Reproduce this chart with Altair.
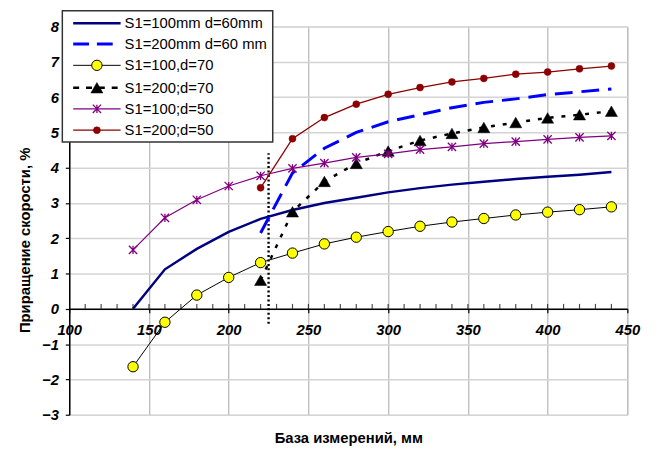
import altair as alt
import pandas as pd

# ---------------- data ----------------
x_full = [140, 160, 180, 200, 220, 240, 260, 280, 300, 320, 340, 360, 380, 400, 420, 440]
x_half = [220, 240, 260, 280, 300, 320, 340, 360, 380, 400, 420, 440]

names = ["S1=100mm d=60mm", "S1=200mm d=60 mm", "S1=100,d=70",
         "S1=200;d=70", "S1=100;d=50", "S1=200;d=50"]

y_s100_d60 = [0.0, 1.12, 1.7, 2.18, 2.55, 2.8, 3.0, 3.15, 3.3, 3.42, 3.52, 3.6, 3.68, 3.74, 3.8, 3.88]
y_s200_d60 = [2.15, 3.85, 4.55, 5.0, 5.3, 5.5, 5.7, 5.85, 5.95, 6.07, 6.15, 6.23]
y_s100_d70 = [-1.64, -0.38, 0.39, 0.89, 1.31, 1.58, 1.84, 2.03, 2.19, 2.34, 2.46, 2.56, 2.66, 2.74, 2.81, 2.89]
y_s200_d70 = [0.81, 2.75, 3.61, 4.12, 4.47, 4.77, 4.97, 5.14, 5.28, 5.41, 5.5, 5.6]
y_s100_d50 = [1.67, 2.58, 3.09, 3.48, 3.77, 3.98, 4.13, 4.29, 4.39, 4.51, 4.59, 4.68, 4.74, 4.8, 4.86, 4.9]
y_s200_d50 = [3.43, 4.82, 5.42, 5.8, 6.08, 6.27, 6.43, 6.53, 6.65, 6.71, 6.8, 6.88]

divider_x = [225, 225]
divider_y = [-0.42, 4.41]

x_ticks = [100, 150, 200, 250, 300, 350, 400, 450]
x_minor = list(range(110, 450, 10))
y_ticks = [-3, -2, -1, 0, 1, 2, 3, 4, 5, 6, 7, 8]

x_title = "База измерений, мм"
y_title = "Приращение скорости, %"

series_data = [
    (x_full, y_s100_d60),
    (x_half, y_s200_d60),
    (x_full, y_s100_d70),
    (x_half, y_s200_d70),
    (x_full, y_s100_d50),
    (x_half, y_s200_d50),
]

# ---------------- styles ----------------
ASTER = "M-1,-1L1,1M-1,1L1,-1M0,-1L0,1"
styles = [
    dict(color="#000080", width=2.5, dash=None, marker=None),
    dict(color="#0000FF", width=3, dash=[18, 9], marker=None),
    dict(color="#000000", width=1, dash=None,
         marker=dict(shape="circle", filled=True, fill="#FFFF00", stroke="#000000", strokeWidth=1, size=110)),
    dict(color="#000000", width=2.5, dash=[4, 8],
         marker=dict(shape="triangle-up", filled=True, fill="#000000", stroke="#000000", strokeWidth=0.5, size=150)),
    dict(color="#800080", width=1.2, dash=None,
         marker=dict(shape=ASTER, filled=False, stroke="#800080", strokeWidth=1.3, size=70)),
    dict(color="#8B0000", width=1.3, dash=None,
         marker=dict(shape="circle", filled=True, fill="#8B0000", stroke="#8B0000", strokeWidth=0.5, size=50)),
]

W, H = 565, 393
FONT = "Liberation Sans"
ydom = [-3, 8]
zero_off = -H * (0 - ydom[0]) / (ydom[1] - ydom[0])

xscale = alt.Scale(domain=[100, 450], nice=False, zero=False)
yscale = alt.Scale(domain=ydom, nice=False, zero=False)

xaxis = alt.Axis(values=x_ticks, grid=True, gridColor="#a6a6a6", gridWidth=1,
                 offset=zero_off, domainColor="#000000", domainWidth=1.5,
                 tickColor="#000000", tickSize=4, tickWidth=1.2,
                 labelFont=FONT, labelFontSize=15, labelFontWeight="bold",
                 labelFontStyle="italic", labelColor="#000000", labelPadding=10,
                 labelFlush=False, labelOverlap=False,
                 title=x_title, titleFont=FONT, titleFontSize=15, titleFontWeight="bold",
                 titleColor="#000000", titleY=130, titleBaseline="middle")
yaxis = alt.Axis(values=y_ticks, grid=True, gridColor="#d4d4d4", gridWidth=1.5,
                 domainColor="#000000", domainWidth=1.5,
                 tickColor="#000000", tickSize=4, tickWidth=1.2,
                 labelFont=FONT, labelFontSize=15, labelFontWeight="bold",
                 labelFontStyle="italic", labelColor="#000000", labelPadding=7,
                 labelFlush=False, labelOverlap=False,
                 title=y_title, titleFont=FONT, titleFontSize=15, titleFontWeight="bold",
                 titleColor="#000000", titleX=-45, titleY=216, titleBaseline="middle",
                 titleAngle=270)

X = alt.X("x:Q", scale=xscale, axis=xaxis)
Y = alt.Y("y:Q", scale=yscale, axis=yaxis)

layers = []

# minor ticks on the zero line
ticks_df = pd.DataFrame({"x": x_minor, "y": [0] * len(x_minor)})
layers.append(alt.Chart(ticks_df).mark_tick(orient="vertical", color="#000000",
                                            size=5, thickness=1.2, yOffset=-2.5)
              .encode(x=X, y=Y))

# divider
div_df = pd.DataFrame({"x": divider_x, "y": divider_y})
layers.append(alt.Chart(div_df).mark_line(color="#000000", strokeWidth=2.4, strokeDash=[2, 2.5])
              .encode(x=X, y=Y))

for (xs, ys), name, st in zip(series_data, names, styles):
    df = pd.DataFrame({"x": xs, "y": ys, "s": name})
    lk = dict(color=st["color"], strokeWidth=st["width"])
    if st["dash"]:
        lk["strokeDash"] = st["dash"]
    layers.append(alt.Chart(df).mark_line(**lk).encode(x=X, y=Y))
    if st["marker"]:
        layers.append(alt.Chart(df).mark_point(opacity=1, **st["marker"]).encode(x=X, y=Y))

# legend
rows = [-3.3, 17.7, 39.3, 62, 83.3, 105]
one = pd.DataFrame({"a": [0]})
layers.append(alt.Chart(one).mark_rect(fill="white", stroke="#333333", strokeWidth=1.5)
              .encode(x=alt.value(-7), x2=alt.value(206), y=alt.value(-16), y2=alt.value(117)))
for name, st, r in zip(names, styles, rows):
    lk = dict(color=st["color"], strokeWidth=st["width"])
    if st["dash"]:
        lk["strokeDash"] = [6, 7] if st["dash"] == [4, 8] else [16, 8]
    layers.append(alt.Chart(one).mark_rule(**lk)
                  .encode(x=alt.value(4), x2=alt.value(52), y=alt.value(r)))
    if st["marker"]:
        layers.append(alt.Chart(one).mark_point(opacity=1, **st["marker"])
                      .encode(x=alt.value(28), y=alt.value(r)))
    layers.append(alt.Chart(pd.DataFrame({"label": [name]}))
                  .mark_text(align="left", baseline="middle", font=FONT, fontSize=15, color="#000000")
                  .encode(x=alt.value(56), y=alt.value(r), text=alt.Text("label:N")))

chart = alt.layer(*layers).properties(
    width=W, height=H,
    padding={"left": 62, "top": 16, "right": 29, "bottom": 35},
    autosize=alt.AutoSizeParams(type="none"),
).configure_view(stroke="#9a9a9a", strokeWidth=2).configure(background="white").configure_axis(
    labelFontStyle="italic", labelFontWeight="bold"
)

chart.save("out.html", embed_options={"renderer": "svg", "actions": False})
